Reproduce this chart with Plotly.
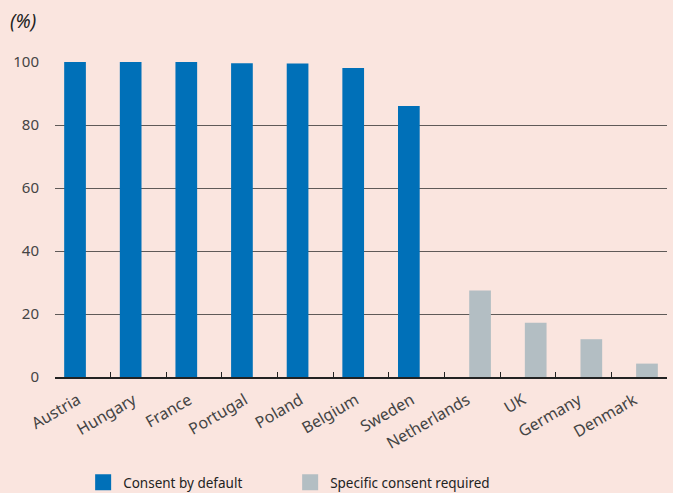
import plotly.graph_objects as go

countries = ["Austria", "Hungary", "France", "Portugal", "Poland", "Belgium", "Sweden",
             "Netherlands", "UK", "Germany", "Denmark"]
default_countries = countries[:7]
default_values = [100, 100, 100, 99.6, 99.5, 98.1, 86.0]
specific_countries = countries[7:]
specific_values = [27.5, 17.2, 12.0, 4.25]
y_ticks = [0, 20, 40, 60, 80, 100]

BG = "#fae5df"
BLUE = "#0070b8"
GREY = "#b3bec3"
FONT = "Noto Sans"

fig = go.Figure()
fig.add_trace(go.Bar(x=default_countries, y=default_values, name="Consent by default",
                     marker=dict(color=BLUE, line=dict(width=0)), width=0.39, offset=-0.335,
                     showlegend=False))
fig.add_trace(go.Bar(x=specific_countries, y=specific_values, name="Specific consent required",
                     marker=dict(color=GREY, line=dict(width=0)), width=0.39, offset=-0.055,
                     showlegend=False))
# legend entries with larger square swatches
fig.add_trace(go.Scatter(x=[None], y=[None], mode="markers", name="Consent by default",
                         marker=dict(symbol="square", size=16, color=BLUE)))
fig.add_trace(go.Scatter(x=[None], y=[None], mode="markers", name="Specific consent required",
                         marker=dict(symbol="square", size=16, color=GREY)))

fig.update_layout(
    width=673, height=493,
    paper_bgcolor=BG, plot_bgcolor=BG,
    margin=dict(l=55, r=6, t=62, b=116, autoexpand=False),
    barmode="overlay",
    font=dict(family=FONT, size=14, color="#333333"),
    showlegend=True,
    legend=dict(orientation="h", x=0.046, xanchor="left", y=-0.335, yanchor="middle",
                bgcolor="rgba(0,0,0,0)", font=dict(size=13.5, color="#222222"),
                entrywidth=162, entrywidthmode="pixels", traceorder="normal",
                itemsizing="trace"),
    xaxis=dict(categoryorder="array", categoryarray=countries, tickangle=-30,
               showgrid=False, showline=True, linecolor="#222222", linewidth=1.5,
               ticks="inside", tickson="boundaries", ticklen=5, tickcolor="#222222",
               tickwidth=1.3, automargin=False, ticklabelshift=-5, ticklabelstandoff=6,
               tickfont=dict(size=16, color="#444444"), range=[-0.5, 10.5]),
    yaxis=dict(range=[0, 100], tickvals=y_ticks, showgrid=True, gridcolor="#5f5a58",
               gridwidth=1.2, zeroline=False, showline=False, ticks="", automargin=False,
               tickfont=dict(size=15, color="#444444"), ticklabelstandoff=15),
)

fig.add_annotation(text="<i>(%)</i>", xref="paper", yref="paper", x=-0.076, y=1.0,
                   yshift=41, xanchor="left", yanchor="middle", showarrow=False,
                   font=dict(size=19, color="#222222"))

fig.write_html("out.html")
